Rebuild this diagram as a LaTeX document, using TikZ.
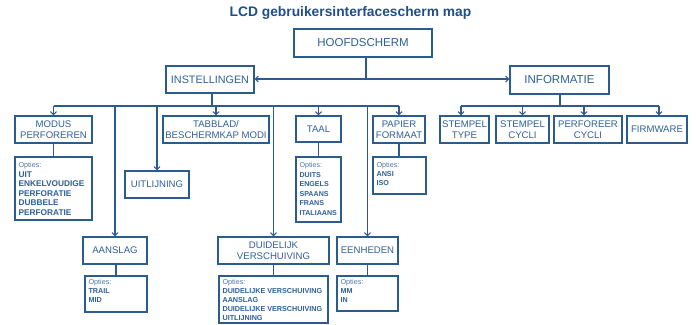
\documentclass[tikz,border=0pt]{standalone}
\usepackage{fontspec}
\setmainfont{Liberation Sans}
\usetikzlibrary{arrows.meta}
\definecolor{lineblue}{HTML}{2B5C8F}
\definecolor{textblue}{HTML}{2E5F98}
\definecolor{optblue}{HTML}{4E76A6}
\definecolor{titleblue}{HTML}{1F4F88}
\newcommand{\opthead}{{\mdseries\color{optblue}Opties:}}
\begin{document}
\begin{tikzpicture}[x=1bp,y=-1bp,
  box/.style={draw=lineblue, line width=1.3bp, text=textblue, align=center,
    inner sep=0pt, minimum height=27bp, font=\fontsize{9.6bp}{11bp}\selectfont},
  optbox/.style={draw=lineblue, line width=1.3bp, inner sep=0pt},
  opttext/.style={anchor=north west, align=left, text=textblue,
    inner xsep=4bp, inner ysep=6bp, font=\fontsize{7.2bp}{9.3bp}\selectfont\bfseries},
  link/.style={draw=lineblue, line width=1.1bp},
  arr/.style={link, -{Straight Barb[length=3bp,width=6bp]}}]
\useasboundingbox (0,0) rectangle (696,324);

% title
\node[font=\fontsize{13.8bp}{16bp}\selectfont\bfseries, text=titleblue] (title)
  at (350.5,13) {LCD gebruikersinterfacescherm map};

% top level
\node[box, minimum width=138bp, minimum height=28bp, font=\fontsize{11.5bp}{13bp}\selectfont] (hoofd) at (363,43) {HOOFDSCHERM};
\node[box, minimum width=88bp, font=\fontsize{10.8bp}{13bp}\selectfont] (inst) at (210,79.5) {INSTELLINGEN};
\node[box, minimum width=99bp, minimum height=28bp, font=\fontsize{11.5bp}{13bp}\selectfont] (info) at (559.5,80) {INFORMATIE};

% settings branch
\node[box, minimum width=77bp] (modus) at (53.5,129.5) {MODUS\\PERFOREREN};
\node[box, minimum width=64bp] (uitl) at (157,184.5) {UITLIJNING};
\node[box, minimum width=106bp] (tabblad) at (216,129.5) {TABBLAD/\\BESCHERMKAP MODI};
\node[box, minimum width=45bp, minimum height=26bp] (taal) at (318.5,129) {TAAL};
\node[box, minimum width=52bp] (papier) at (399,129.5) {PAPIER\\FORMAAT};
\node[box, minimum width=64bp] (aanslag) at (115,250.5) {AANSLAG};
\node[box, minimum width=111bp] (duid) at (273.5,250.5) {DUIDELIJK\\VERSCHUIVING};
\node[box, minimum width=61bp] (eenh) at (367.5,250.5) {EENHEDEN};

% information branch
\node[box, minimum width=49bp] (stype) at (464.5,129.5) {STEMPEL\\TYPE};
\node[box, minimum width=53bp] (scycli) at (522.5,129.5) {STEMPEL\\CYCLI};
\node[box, minimum width=68bp] (pcycli) at (588,129.5) {PERFOREER\\CYCLI};
\node[box, minimum width=60bp] (firm) at (657,129.5) {FIRMWARE};

% option lists
\node[optbox, minimum width=77bp, minimum height=63bp] (modusopt) at (53.5,188.5) {};
\node[opttext, font=\fontsize{8.3bp}{9.5bp}\selectfont\bfseries] (modustxt) at (modusopt.north west)
  {{\fontsize{7.2bp}{9.5bp}\selectfont\opthead}\\UIT\\ENKELVOUDIGE\\PERFORATIE\\DUBBELE\\PERFORATIE};
\node[optbox, minimum width=45bp, minimum height=65bp] (taalopt) at (318.5,189.5) {};
\node[opttext, font=\fontsize{7.1bp}{9.5bp}\selectfont\bfseries] (taaltxt) at (taalopt.north west)
  {\opthead\\DUITS\\ENGELS\\SPAANS\\FRANS\\ITALIAANS};
\node[optbox, minimum width=53bp, minimum height=37bp] (papieropt) at (399.5,175.5) {};
\node[opttext, font=\fontsize{7.2bp}{9bp}\selectfont\bfseries] (papiertxt) at (papieropt.north west)
  {\opthead\\ANSI\\ISO};
\node[optbox, minimum width=62bp, minimum height=36bp] (aanslagopt) at (116,294) {};
\node[opttext, inner ysep=3.5bp, font=\fontsize{7.2bp}{9.2bp}\selectfont\bfseries] (aanslagtxt) at (aanslagopt.north west)
  {\opthead\\TRAIL\\MID};
\node[optbox, minimum width=109bp, minimum height=47bp] (duidopt) at (273.5,299.5) {};
\node[opttext, inner ysep=3.5bp, font=\fontsize{7.2bp}{9bp}\selectfont\bfseries] (duidtxt) at (duidopt.north west)
  {\opthead\\DUIDELIJKE VERSCHUIVING\\AANSLAG\\DUIDELIJKE VERSCHUIVING\\UITLIJNING};
\node[optbox, minimum width=61bp, minimum height=35bp] (eenhopt) at (367.5,293.5) {};
\node[opttext, inner ysep=3.5bp, font=\fontsize{7.2bp}{9.2bp}\selectfont\bfseries] (eenhtxt) at (eenhopt.north west)
  {\opthead\\MM\\IN};

% main screen to the two menus
\coordinate (hj) at (366,79);
\draw[link] (hoofd.south -| hj) -- (hj);
\draw[arr] (hj) -- (hj -| inst.east);
\draw[arr] (hj) -- (hj -| info.west);

% settings bus
\coordinate (ibus) at (212,106);
\draw[link] (inst.south -| ibus) -- (ibus);
\draw[link] (ibus -| modus) -- (ibus -| papier);
\draw[arr] (ibus -| modus) -- (modus.north);
\draw[arr] (ibus -| aanslag) -- (aanslag.north);
\draw[arr] (ibus -| uitl) -- (uitl.north);
\draw[arr] (ibus -| tabblad) -- (tabblad.north);
\draw[arr] (ibus -| duid) -- (duid.north);
\draw[arr] (ibus -| taal) -- (taal.north);
\draw[arr] (ibus -| eenh) -- (eenh.north);
\draw[arr] (ibus -| papier) -- (papier.north);

% information bus
\coordinate (fbus) at (560,106);
\coordinate (st) at (461,106);
\coordinate (pc) at (584,106);
\coordinate (fw) at (659,106);
\draw[link] (info.south -| fbus) -- (fbus);
\draw[link] (st) -- (fw);
\draw[arr] (st) -- (st |- stype.north);
\draw[arr] (ibus -| scycli) -- (scycli.north);
\draw[arr] (pc) -- (pc |- pcycli.north);
\draw[arr] (fw) -- (fw |- firm.north);

% menus to their option lists
\draw[link] (modus.south) -- (modusopt.north);
\draw[link] (taal.south) -- (taalopt.north);
\draw[link] (papier.south) -- (papier.south |- papieropt.north);
\draw[link] (aanslagopt.north) -- (aanslagopt.north |- aanslag.south);
\draw[link] (duid.south) -- (duidopt.north);
\draw[link] (eenh.south) -- (eenhopt.north);
\end{tikzpicture}
\end{document}
